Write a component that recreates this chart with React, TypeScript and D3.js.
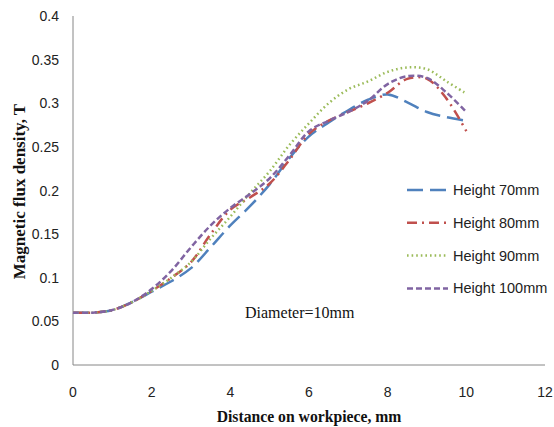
import React from "react";
import * as d3 from "d3";

const distances = [0, 0.5, 1, 1.5, 2, 2.5, 3, 3.5, 4, 4.5, 5, 5.5, 6, 6.5, 7, 7.5, 8, 8.5, 9, 9.5, 10];
const height70 = [0.06, 0.06, 0.063, 0.072, 0.084, 0.096, 0.111, 0.135, 0.16, 0.182, 0.207, 0.237, 0.262, 0.278, 0.292, 0.304, 0.31, 0.301, 0.29, 0.284, 0.28];
const height80 = [0.06, 0.06, 0.063, 0.072, 0.085, 0.1, 0.118, 0.15, 0.178, 0.192, 0.208, 0.235, 0.265, 0.28, 0.29, 0.3, 0.312, 0.328, 0.328, 0.305, 0.268];
const height90 = [0.06, 0.06, 0.063, 0.072, 0.085, 0.1, 0.118, 0.145, 0.17, 0.197, 0.222, 0.252, 0.277, 0.3, 0.316, 0.325, 0.336, 0.341, 0.339, 0.325, 0.311];
const height100 = [0.06, 0.06, 0.063, 0.072, 0.087, 0.108, 0.135, 0.16, 0.18, 0.196, 0.214, 0.24, 0.268, 0.28, 0.29, 0.303, 0.322, 0.331, 0.329, 0.312, 0.29];

const seriesNames = ["Height 70mm", "Height 80mm", "Height 90mm", "Height 100mm"];
const xTicks = [0, 2, 4, 6, 8, 10, 12];
const yTicks = [0, 0.05, 0.1, 0.15, 0.2, 0.25, 0.3, 0.35, 0.4];

const styles = [
  { color: "#4F81BD", dash: "16 7" },
  { color: "#C0504D", dash: "10 5 2 5" },
  { color: "#9BBB59", dash: "1.6 3" },
  { color: "#8064A2", dash: "6 3" },
];

export default function App() {
  const W = 554;
  const H = 427;
  const left = 73;
  const right = 545;
  const top = 16;
  const bottom = 365;

  const x = d3.scaleLinear().domain([0, 12]).range([left, right]);
  const y = d3.scaleLinear().domain([0, 0.4]).range([bottom, top]);

  const seriesValues = [height70, height80, height90, height100];
  const line = d3
    .line<number>()
    .x((_, i) => x(distances[i]))
    .y((v) => y(v))
    .curve(d3.curveCatmullRom.alpha(0.5));

  const tickFont = "'Liberation Sans', Arial, sans-serif";
  const serif = "'Liberation Serif', 'Times New Roman', serif";

  return (
    <svg width={W} height={H} style={{ position: "absolute", left: 0, top: 0, background: "#fff" }}>
      <rect width={W} height={H} fill="#fff" />
      {/* axes */}
      <line x1={left} y1={top} x2={left} y2={bottom} stroke="#868686" strokeWidth={1} />
      <line x1={left} y1={bottom} x2={right} y2={bottom} stroke="#868686" strokeWidth={1} />

      {yTicks.map((t) => (
        <text key={t} x={left - 14} y={y(t) + 5} textAnchor="end" fontFamily={tickFont} fontSize={14} fill="#222">
          {t === 0 ? "0" : String(+t.toFixed(2))}
        </text>
      ))}
      {xTicks.map((t) => (
        <text key={t} x={x(t)} y={397} textAnchor="middle" fontFamily={tickFont} fontSize={14} fill="#222">
          {t}
        </text>
      ))}

      {/* series */}
      {seriesValues.map((vals, i) => (
        <path
          key={seriesNames[i]}
          d={line(vals) || ""}
          fill="none"
          stroke={styles[i].color}
          strokeWidth={2.5}
          strokeDasharray={styles[i].dash}
        />
      ))}

      {/* legend */}
      {seriesNames.map((name, i) => {
        const ly = 190 + i * 32.8;
        return (
          <g key={name}>
            <line x1={407} y1={ly} x2={448} y2={ly} stroke={styles[i].color} strokeWidth={2.5} strokeDasharray={styles[i].dash} />
            <text x={453} y={ly + 5} fontFamily={tickFont} fontSize={14.5} fill="#222">
              {name}
            </text>
          </g>
        );
      })}

      <text x={245} y={318} fontFamily={serif} fontSize={16} fill="#111">
        Diameter=10mm
      </text>

      <text x={(left + right) / 2} y={422} textAnchor="middle" fontFamily={serif} fontWeight="bold" fontSize={15.7} fill="#111">
        Distance on workpiece, mm
      </text>
      <text
        transform={`translate(25, ${(98 + 285) / 2}) rotate(-90)`}
        textAnchor="middle"
        fontFamily={serif}
        fontWeight="bold"
        fontSize={17}
        fill="#111"
      >
        Magnetic flux density, T
      </text>
    </svg>
  );
}
